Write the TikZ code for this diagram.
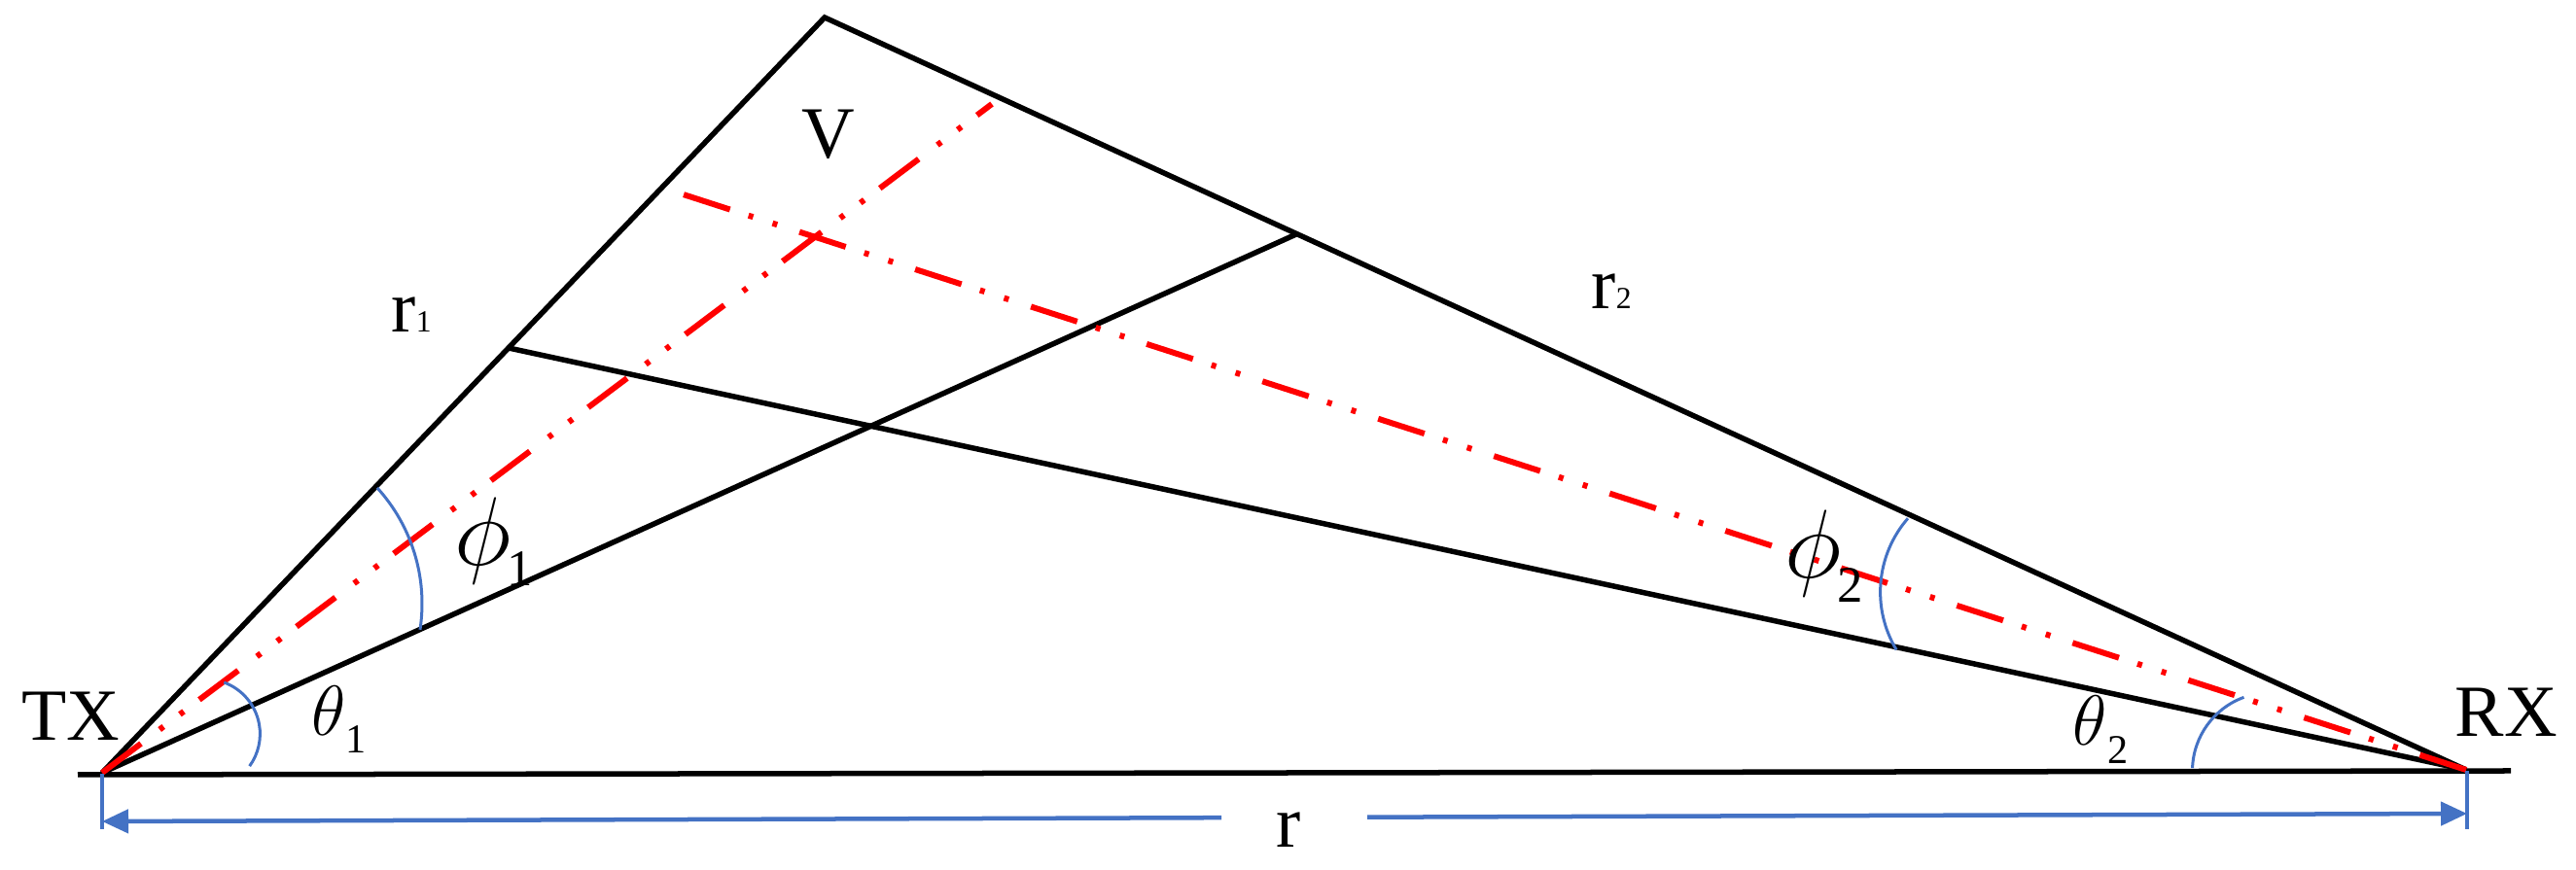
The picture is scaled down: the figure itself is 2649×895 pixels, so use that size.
\documentclass[tikz,border=0pt]{standalone}
\usepackage{fontspec}
\setmainfont{Liberation Serif}
\usetikzlibrary{arrows.meta}
\definecolor{offblue}{RGB}{68,114,196}
\definecolor{pured}{RGB}{255,0,0}
\begin{document}
\begin{tikzpicture}[x=0.01cm,y=0.01cm,
  blackline/.style={line width=0.055cm, black, line join=miter, line cap=butt},
  redray/.style={line width=0.06cm, pured, dash pattern=on 0.5cm off 0.24cm on 0.05cm off 0.21cm on 0.05cm off 0.2cm},
  anglearc/.style={line width=0.03cm, offblue},
  dimline/.style={line width=0.045cm, offblue, -{Triangle[length=0.27cm,width=0.24cm]}},
  dimtick/.style={line width=0.032cm, offblue},
  lbl/.style={anchor=base west, inner sep=0pt, font=\fontsize{21.5}{24}\selectfont}]
\useasboundingbox (0,0) rectangle (2649,895);
% main points
\coordinate (TX) at (105,100);
\coordinate (RX) at (2536,103);
\coordinate (BL) at (80,98);
\coordinate (BR) at (2582,102);
\coordinate (A) at (848,877);
\coordinate (P1) at (523,537);
\coordinate (P2) at (1333,654);
\coordinate (E1) at (1020,788);
\coordinate (E2) at (687,700);
% black lines
\draw[blackline] (BL) -- (BR);
\draw[blackline] (TX) -- (A) -- (RX);
\draw[blackline] (TX) -- (P2);
\draw[blackline] (P1) -- (RX);
% red rays
\draw[redray] (TX) -- (E1);
\draw[redray] (RX) -- (E2);
% angle arcs
\coordinate (Ct1) at (211,140);
\coordinate (Cp1) at (257,274);
\coordinate (Cp2) at (2049,286);
\coordinate (Ct2) at (2335,102);
\draw[anglearc] (Ct1) ++(70:56.4) arc[start angle=70, end angle=-36, radius=56.4];
\draw[anglearc] (Cp1) ++(42.3:177) arc[start angle=42.3, end angle=-8.7, radius=177];
\draw[anglearc] (Cp2) ++(139:115.4) arc[start angle=139, end angle=211, radius=115.4];
\draw[anglearc] (Ct2) ++(110:80.5) arc[start angle=110, end angle=178, radius=80.5];
% dimension line
\coordinate (TLt) at (105,99);
\coordinate (TLb) at (105,42);
\coordinate (TRt) at (2537,102);
\coordinate (TRb) at (2537,42);
\draw[dimtick] (TLt) -- (TLb);
\draw[dimtick] (TRt) -- (TRb);
\coordinate (L) at (105,50);
\coordinate (R) at (2537,58);
\coordinate (GL) at (1256,53.8);
\coordinate (GR) at (1406,54.3);
\draw[dimline] (GL) -- (L);
\draw[dimline] (GR) -- (R);
% labels
\node[lbl] (txl) at (22,133) {TX};
\node[lbl] (rxl) at (2524,137) {RX};
\node[lbl] (vl) at (824,732) {V};
\node[lbl] (r1l) at (402,553) {r{\fontsize{9}{10}\selectfont 1}};
\node[lbl] (r2l) at (1636,577) {r{\fontsize{9}{10}\selectfont 2}};
\node[lbl] (rlbl) at (1312,23) {r};
\node[lbl] (th1) at (320,138) {\fontsize{20.74}{24}\selectfont$\theta$\raisebox{-0.18cm}{\fontsize{12}{12}\selectfont 1}};
\node[lbl] (th2) at (2131,128) {\fontsize{20.74}{24}\selectfont$\theta$\raisebox{-0.19cm}{\fontsize{12}{12}\selectfont 2}};
\node[lbl, scale=1.146] (ph1) at (467,313) {\fontsize{24.88}{28}\selectfont$\phi$\kern-0.04cm\raisebox{-0.183cm}{\fontsize{13.1}{14}\selectfont 1}};
\node[lbl, scale=1.146] (ph2) at (1835,300) {\fontsize{24.88}{28}\selectfont$\phi$\kern-0.04cm\raisebox{-0.21cm}{\fontsize{13.1}{14}\selectfont 2}};
\end{tikzpicture}
\end{document}
